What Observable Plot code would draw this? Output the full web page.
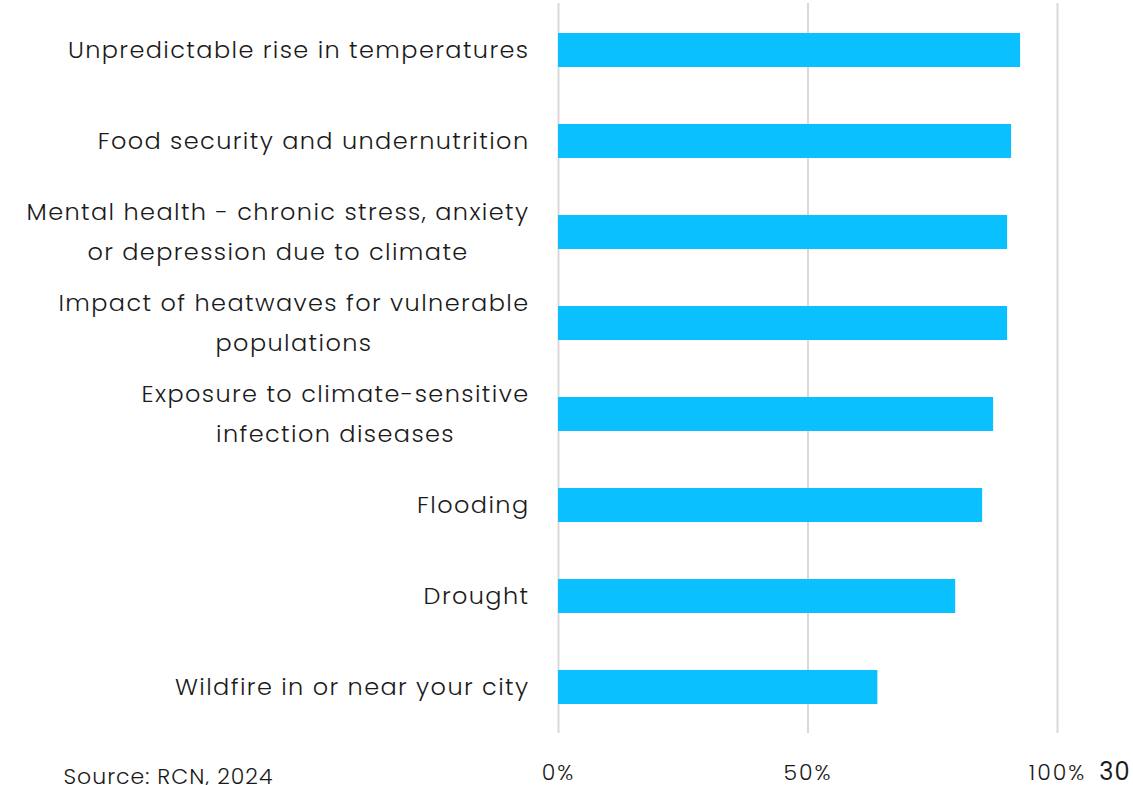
<!DOCTYPE html>
<html>
<head>
<meta charset="utf-8">
<script src="https://cdn.jsdelivr.net/npm/d3@7"></script>
<script src="https://cdn.jsdelivr.net/npm/@observablehq/plot@0.6"></script>
<style>
  html, body { margin: 0; padding: 0; background: #fff; }
  #chart svg { display: block; }
  #chart g[aria-label='y-axis tick label'] { letter-spacing: 1.4px; }
  #chart g[aria-label='x-axis tick label'] { letter-spacing: 2px; }
  #chart g[aria-label='text'] { letter-spacing: 1px; }
</style>
</head>
<body>
<div id="chart"></div>
<script>
const categories = [
  "Unpredictable rise in temperatures",
  "Food security and undernutrition",
  "Mental health - chronic stress, anxiety\nor depression due to climate",
  "Impact of heatwaves for vulnerable\npopulations",
  "Exposure to climate-sensitive\ninfection diseases",
  "Flooding",
  "Drought",
  "Wildfire in or near your city"
];
const values = [0.926, 0.908, 0.900, 0.900, 0.872, 0.850, 0.796, 0.640];
const xTicks = [0, 0.5, 1];
const sourceText = "Source: RCN, 2024";
const pageNumber = "30";

const data = categories.map((c, i) => ({category: c, value: values[i]}));
const FONT = "Poppins, Inter, 'Open Sans', sans-serif";

const chart = Plot.plot({
  width: 1133,
  height: 785,
  marginLeft: 558,
  marginRight: 76,
  marginTop: 3,
  marginBottom: 52,
  style: {fontFamily: FONT, fontSize: "22px", color: "#1a1a1a", background: "#fff"},
  x: {domain: [0, 1], ticks: xTicks, tickFormat: d3.format(".0%")},
  y: {domain: categories, paddingInner: 0.63, paddingOuter: 0.315, align: 0.5},
  marks: [
    Plot.gridX(xTicks, {stroke: "#d9d9d9", strokeOpacity: 1, strokeWidth: 2}),
    Plot.barX(data, {x: "value", y: "category", fill: "#0bc0ff"}),
    Plot.axisX(xTicks, {tickSize: 0, tickPadding: 31, fontSize: 22, fontWeight: 300, fill: "#1a1a1a", tickFormat: d3.format(".0%"), label: null}),
    Plot.axisY({tickSize: 0, tickPadding: 29, dy: -5, fontSize: 24, fontWeight: 300, fill: "#1a1a1a", label: null, lineHeight: 1.65}),
    Plot.text([sourceText], {frameAnchor: "bottom-left", dx: -495, dy: 50, textAnchor: "start", fontSize: 22, fontWeight: 300, fill: "#1a1a1a"}),
    Plot.text([pageNumber], {frameAnchor: "bottom-right", dx: 73, dy: 46, textAnchor: "end", fontSize: 24, fontWeight: 400, fill: "#1a1a1a"})
  ]
});
document.getElementById("chart").appendChild(chart);

// Center multi-line labels within their block (block stays right-aligned)
chart.querySelectorAll("g[aria-label='y-axis tick label'] text").forEach(t => {
  const spans = t.querySelectorAll("tspan");
  if (spans.length < 2) return;
  const widths = Array.from(spans, s => s.getComputedTextLength());
  const W = Math.max(...widths);
  spans.forEach(s => {
    const x0 = +(s.getAttribute("x") || 0);
    s.setAttribute("x", x0 - W / 2);
  });
  t.setAttribute("text-anchor", "middle");
});
</script>
</body>
</html>
